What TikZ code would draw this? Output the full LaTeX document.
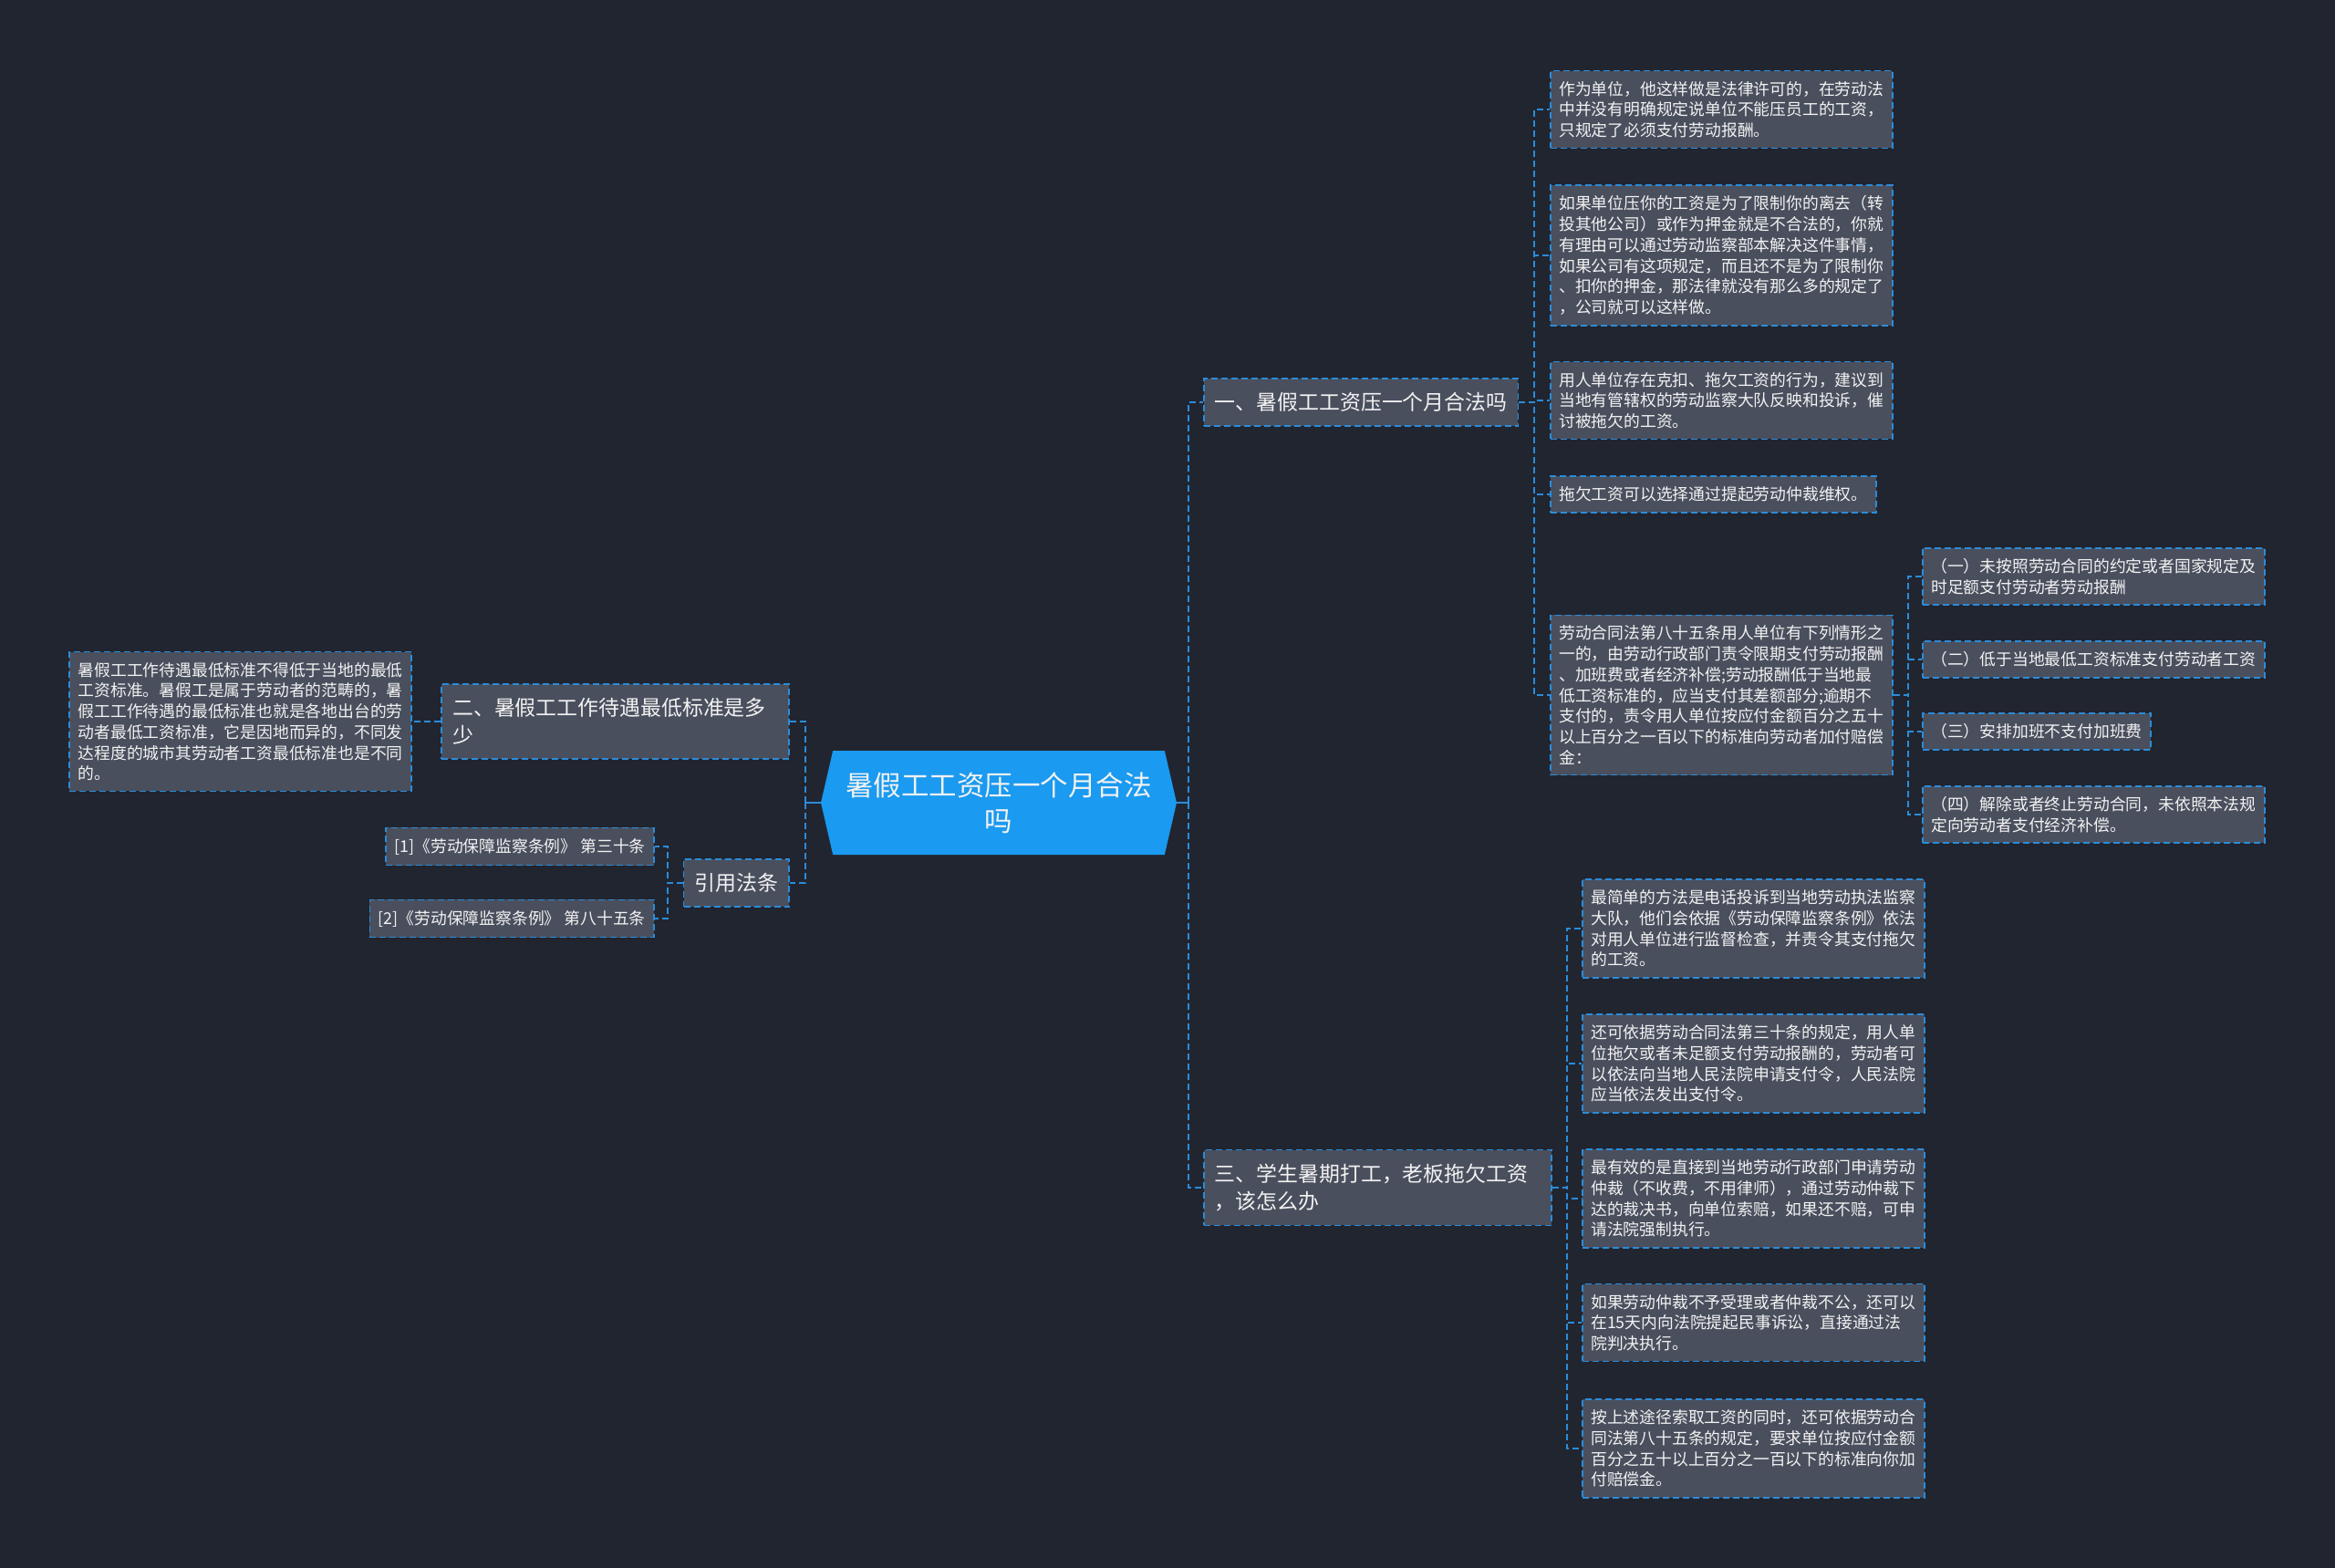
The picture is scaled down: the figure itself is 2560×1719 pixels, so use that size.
\documentclass[tikz,border=0pt]{standalone}
\usepackage{fontspec}
\newfontfamily\cjk{Noto Sans CJK SC}
\usepackage{xcolor}
\usepackage{tikz}
\usetikzlibrary{positioning,shapes.symbols}
\definecolor{bgdark}{RGB}{33,37,48}
\definecolor{boxfill}{RGB}{73,79,93}
\definecolor{linkblue}{RGB}{42,140,218}
\definecolor{hubblue}{RGB}{26,154,240}
\definecolor{txt}{RGB}{242,242,242}
\tikzset{
hub/.style={
shape=signal,
signal to=east and west,
signal pointer angle=154,
fill=hubblue,
text=txt,
align=center,
minimum width=390pt,
minimum height=114pt,
inner sep=0pt,
font=\cjk\fontsize{30.5}{39}\selectfont
},
topic/.style={
draw=linkblue,
line width=1.6pt,
dash pattern=on 7pt off 4pt,
fill=boxfill,
text=txt,
align=left,
inner xsep=12pt,
inner ysep=15.5pt,
font=\cjk\fontsize{22.9}{30}\selectfont
},
leaf/.style={
draw=linkblue,
line width=1.6pt,
dash pattern=on 7pt off 4pt,
fill=boxfill,
text=txt,
align=left,
inner xsep=9.5pt,
inner ysep=11.5pt,
font=\cjk\fontsize{17.8}{22.7}\selectfont
},
link/.style={
draw=linkblue,
line width=1.8pt,
dash pattern=on 7pt off 4pt
},
stub/.style={
draw=linkblue,
line width=2pt
}
}

\begin{document}
\begin{tikzpicture}[x=1pt,y=-1pt]
\fill[bgdark](0,0) rectangle (2560,1719);
\useasboundingbox(0,0) rectangle (2560,1719);

\node[hub](hub) at (1095,880){暑假工工资压一个月合法\\吗};
\node[topic,anchor=west](t1) at (1319,441){一、暑假工工资压一个月合法吗};
\node[topic,anchor=east,text width=357pt](t2) at (866,791){二、暑假工工作待遇最低标准是多\\少};
\node[topic,anchor=east](cite) at (866,968){引用法条};
\node[topic,anchor=west,text width=357pt](t3) at (1319,1302){三、学生暑期打工，老板拖欠工资\\，该怎么办};

\node[leaf,anchor=west](a) at (1699,120){作为单位，他这样做是法律许可的，在劳动法\\中并没有明确规定说单位不能压员工的工资，\\只规定了必须支付劳动报酬。};
\node[leaf,anchor=west](b) at (1699,280){如果单位压你的工资是为了限制你的离去（转\\投其他公司）或作为押金就是不合法的，你就\\有理由可以通过劳动监察部本解决这件事情，\\如果公司有这项规定，而且还不是为了限制你\\、扣你的押金，那法律就没有那么多的规定了\\，公司就可以这样做。};
\node[leaf,anchor=west](c) at (1699,439){用人单位存在克扣、拖欠工资的行为，建议到\\当地有管辖权的劳动监察大队反映和投诉，催\\讨被拖欠的工资。};
\node[leaf,anchor=west](d) at (1699,542){拖欠工资可以选择通过提起劳动仲裁维权。};
\node[leaf,anchor=west](e) at (1699,762){劳动合同法第八十五条用人单位有下列情形之\\一的，由劳动行政部门责令限期支付劳动报酬\\、加班费或者经济补偿;劳动报酬低于当地最\\低工资标准的，应当支付其差额部分;逾期不\\支付的，责令用人单位按应付金额百分之五十\\以上百分之一百以下的标准向劳动者加付赔偿\\金：};

\node[leaf,anchor=west](e1) at (2107,632){（一）未按照劳动合同的约定或者国家规定及\\时足额支付劳动者劳动报酬};
\node[leaf,anchor=west](e2) at (2107,723){（二）低于当地最低工资标准支付劳动者工资};
\node[leaf,anchor=west](e3) at (2107,802){（三）安排加班不支付加班费};
\node[leaf,anchor=west](e4) at (2107,893){（四）解除或者终止劳动合同，未依照本法规\\定向劳动者支付经济补偿。};

\node[leaf,anchor=east](w) at (452,791){暑假工工作待遇最低标准不得低于当地的最低\\工资标准。暑假工是属于劳动者的范畴的，暑\\假工工作待遇的最低标准也就是各地出台的劳\\动者最低工资标准，它是因地而异的，不同发\\达程度的城市其劳动者工资最低标准也是不同\\的。};
\node[leaf,anchor=east](r1) at (718,928){[1]《劳动保障监察条例》 第三十条};
\node[leaf,anchor=east](r2) at (718,1007){[2]《劳动保障监察条例》 第八十五条};

\node[leaf,anchor=west](f1) at (1734,1018){最简单的方法是电话投诉到当地劳动执法监察\\大队，他们会依据《劳动保障监察条例》依法\\对用人单位进行监督检查，并责令其支付拖欠\\的工资。};
\node[leaf,anchor=west](f2) at (1734,1166){还可依据劳动合同法第三十条的规定，用人单\\位拖欠或者未足额支付劳动报酬的，劳动者可\\以依法向当地人民法院申请支付令，人民法院\\应当依法发出支付令。};
\node[leaf,anchor=west](f3) at (1734,1314){最有效的是直接到当地劳动行政部门申请劳动\\仲裁（不收费，不用律师），通过劳动仲裁下\\达的裁决书，向单位索赔，如果还不赔，可申\\请法院强制执行。};
\node[leaf,anchor=west](f4) at (1734,1450){如果劳动仲裁不予受理或者仲裁不公，还可以\\在15天内向法院提起民事诉讼，直接通过法\\院判决执行。};
\node[leaf,anchor=west](f5) at (1734,1588){按上述途径索取工资的同时，还可依据劳动合\\同法第八十五条的规定，要求单位按应付金额\\百分之五十以上百分之一百以下的标准向你加\\付赔偿金。};

\draw[stub](hub.east)--++(13,0) coordinate(hr);
\draw[stub](hub.west)--++(-17,0) coordinate(hl);
\draw[link](hr)|-(t1.west);
\draw[link](hr)|-(t3.west);
\draw[link](hl)|-(t2.east);
\draw[link](hl)|-(cite.east);

\draw[link](t1.east)--++(17,0)|-(a.west);
\draw[link](t1.east)--++(17,0)|-(b.west);
\draw[link](t1.east)--++(17,0)|-(c.west);
\draw[link](t1.east)--++(17,0)|-(d.west);
\draw[link](t1.east)--++(17,0)|-(e.west);

\draw[link](e.east)--++(16,0)|-(e1.west);
\draw[link](e.east)--++(16,0)|-(e2.west);
\draw[link](e.east)--++(16,0)|-(e3.west);
\draw[link](e.east)--++(16,0)|-(e4.west);

\draw[link](t2.west)--(w.east);
\draw[link](cite.west)--++(-17,0)|-(r1.east);
\draw[link](cite.west)--++(-17,0)|-(r2.east);

\draw[link](t3.east)--++(16,0)|-(f1.west);
\draw[link](t3.east)--++(16,0)|-(f2.west);
\draw[link](t3.east)--++(16,0)|-(f3.west);
\draw[link](t3.east)--++(16,0)|-(f4.west);
\draw[link](t3.east)--++(16,0)|-(f5.west);
\end{tikzpicture}
\end{document}
